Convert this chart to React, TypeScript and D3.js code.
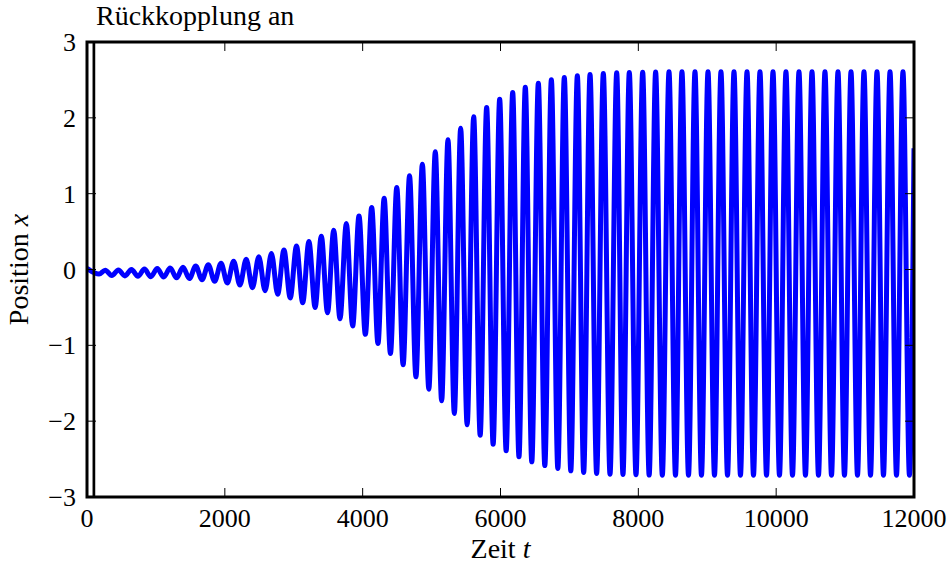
import React, { useEffect, useRef } from 'react';
import * as d3 from 'd3';

// times (t) and values (x) of the maxima
const maxTimes = [
  265, 455, 645, 833, 1020, 1207, 1393, 1578, 1760, 1945, 2128, 2310, 2493, 2676, 2858, 3040,
  3220, 3400, 3580, 3763, 3947, 4131, 4312, 4495, 4680, 4866, 5054, 5238, 5422, 5611, 5799,
  5988, 6177, 6360, 6549, 6738, 6926, 7115, 7299, 7492, 7686, 7869, 8063, 8251, 8445, 8633,
  8822, 9011, 9199, 9388, 9577, 9765, 9954, 10142, 10331, 10520, 10708, 10897, 11086, 11274,
  11463, 11652, 11840,
];
const maxValues = [
  -0.01, -0.005, 0.0, 0.005, 0.012, 0.02, 0.03, 0.045, 0.062, 0.082, 0.108, 0.135, 0.168, 0.21,
  0.258, 0.31, 0.37, 0.44, 0.518, 0.605, 0.705, 0.818, 0.94, 1.081, 1.235, 1.389, 1.552, 1.71,
  1.863, 2.013, 2.136, 2.246, 2.334, 2.404, 2.457, 2.501, 2.532, 2.554, 2.572, 2.585, 2.594,
  2.598, 2.602, 2.605, 2.607, 2.607, 2.607, 2.607, 2.607, 2.607, 2.607, 2.607, 2.607, 2.607,
  2.607, 2.607, 2.607, 2.607, 2.607, 2.607, 2.607, 2.607, 2.607,
];

// times and values of the minima
const minTimes = [
  175, 360, 550, 739, 926, 1113, 1300, 1485, 1669, 1852, 2036, 2219, 2401, 2584, 2767, 2949,
  3130, 3310, 3490, 3671, 3855, 4039, 4222, 4403, 4587, 4773, 4960, 5146, 5330, 5516, 5705,
  5893, 6082, 6268, 6454, 6643, 6832, 7020, 7207, 7395, 7589, 7777, 7966, 8157, 8348, 8539,
  8728, 8916, 9105, 9294, 9482, 9671, 9860, 10048, 10237, 10425, 10614, 10803, 10991, 11180,
  11369, 11557, 11746, 11934,
];
const minValues = [
  -0.06, -0.08, -0.085, -0.09, -0.095, -0.1, -0.11, -0.12, -0.135, -0.155, -0.178, -0.205, -0.24,
  -0.28, -0.325, -0.375, -0.44, -0.5, -0.57, -0.65, -0.745, -0.855, -0.976, -1.108, -1.257,
  -1.415, -1.578, -1.732, -1.899, -2.048, -2.185, -2.304, -2.391, -2.47, -2.536, -2.585, -2.624,
  -2.655, -2.677, -2.69, -2.699, -2.703, -2.707, -2.711, -2.713, -2.713, -2.713, -2.713, -2.713,
  -2.713, -2.713, -2.713, -2.713, -2.713, -2.713, -2.713, -2.713, -2.713, -2.713, -2.713, -2.713,
  -2.713, -2.713, -2.713,
];

// first and last sample of the run
const startPoint = { t: 0, x: 0.015 };
const endPoint = { t: 12000, x: 1.6 };

const feedbackOnTime = 100;
const xTicks = [0, 2000, 4000, 6000, 8000, 10000, 12000];
const yTicks = [-3, -2, -1, 0, 1, 2, 3];
const title = 'Rückkopplung an';

const App = () => {
  const chartRef = useRef(null);

  useEffect(() => {
    const width = 950;
    const height = 568;
    const marginTop = 42;
    const marginRight = 36;
    const marginBottom = 71;
    const marginLeft = 87;
    const font = '"Liberation Serif", "Times New Roman", serif';
    const fontSize = 26;
    const labelSize = 28;
    const tickLen = 9;

    d3.select(chartRef.current).selectAll('*').remove();

    const data = [startPoint]
      .concat(maxTimes.map((t, i) => ({ t, x: maxValues[i] })))
      .concat(minTimes.map((t, i) => ({ t, x: minValues[i] })))
      .concat([endPoint])
      .sort((a, b) => a.t - b.t);

    const x = d3.scaleLinear().domain([0, 12000]).range([marginLeft, width - marginRight]);
    const y = d3.scaleLinear().domain([-3, 3]).range([height - marginBottom, marginTop]);

    const svg = d3.select(chartRef.current)
      .append('svg')
      .attr('width', width)
      .attr('height', height)
      .attr('viewBox', [0, 0, width, height])
      .style('position', 'absolute')
      .style('left', '0px')
      .style('top', '0px')
      .style('background', 'white')
      .style('font-family', font);

    svg.append('clipPath')
      .attr('id', 'plot-clip')
      .append('rect')
      .attr('x', marginLeft)
      .attr('y', marginTop)
      .attr('width', width - marginLeft - marginRight)
      .attr('height', height - marginTop - marginBottom);

    // the oscillation
    svg.append('path')
      .datum(data)
      .attr('clip-path', 'url(#plot-clip)')
      .attr('fill', 'none')
      .attr('stroke', '#0000ff')
      .attr('stroke-width', 5)
      .attr('stroke-linejoin', 'round')
      .attr('d', d3.line()
        .x(d => x(d.t))
        .y(d => y(d.x))
        .curve(d3.curveMonotoneX)
      );

    // marker where the feedback is switched on
    svg.append('line')
      .attr('x1', x(feedbackOnTime))
      .attr('x2', x(feedbackOnTime))
      .attr('y1', y(3))
      .attr('y2', y(-3))
      .attr('stroke', 'black')
      .attr('stroke-width', 2.7);

    // inward ticks on all four sides
    const ticks = svg.append('g').attr('stroke', 'black').attr('stroke-width', 1);
    xTicks.forEach(t => {
      ticks.append('line').attr('x1', x(t)).attr('x2', x(t))
        .attr('y1', y(-3)).attr('y2', y(-3) - tickLen);
      ticks.append('line').attr('x1', x(t)).attr('x2', x(t))
        .attr('y1', y(3)).attr('y2', y(3) + tickLen);
    });
    yTicks.forEach(v => {
      ticks.append('line').attr('x1', x(0)).attr('x2', x(0) + tickLen)
        .attr('y1', y(v)).attr('y2', y(v));
      ticks.append('line').attr('x1', x(12000)).attr('x2', x(12000) - tickLen)
        .attr('y1', y(v)).attr('y2', y(v));
    });

    // frame
    svg.append('rect')
      .attr('x', x(0))
      .attr('y', y(3))
      .attr('width', x(12000) - x(0))
      .attr('height', y(-3) - y(3))
      .attr('fill', 'none')
      .attr('stroke', 'black')
      .attr('stroke-width', 3);

    // tick labels
    svg.append('g')
      .selectAll('text')
      .data(xTicks)
      .join('text')
      .attr('x', d => x(d))
      .attr('y', y(-3) + 30)
      .attr('text-anchor', 'middle')
      .attr('font-size', fontSize)
      .text(d => String(d));

    svg.append('g')
      .selectAll('text')
      .data(yTicks)
      .join('text')
      .attr('x', x(0) - 11)
      .attr('y', d => y(d) + 9)
      .attr('text-anchor', 'end')
      .attr('font-size', fontSize)
      .text(d => (d < 0 ? '\u2212' + Math.abs(d) : String(d)));

    // axis labels
    const xLabel = svg.append('text')
      .attr('x', (x(0) + x(12000)) / 2)
      .attr('y', 558)
      .attr('text-anchor', 'middle')
      .attr('font-size', labelSize);
    xLabel.append('tspan').text('Zeit ');
    xLabel.append('tspan').attr('font-style', 'italic').text('t');

    const yLabel = svg.append('text')
      .attr('transform', `translate(28,${(y(3) + y(-3)) / 2}) rotate(-90)`)
      .attr('text-anchor', 'middle')
      .attr('font-size', labelSize);
    yLabel.append('tspan').text('Position ');
    yLabel.append('tspan').attr('font-style', 'italic').text('x');

    // title
    svg.append('text')
      .attr('x', 96)
      .attr('y', 25)
      .attr('font-size', labelSize)
      .text(title);
  }, []);

  return <div ref={chartRef}></div>;
};

export default App;
